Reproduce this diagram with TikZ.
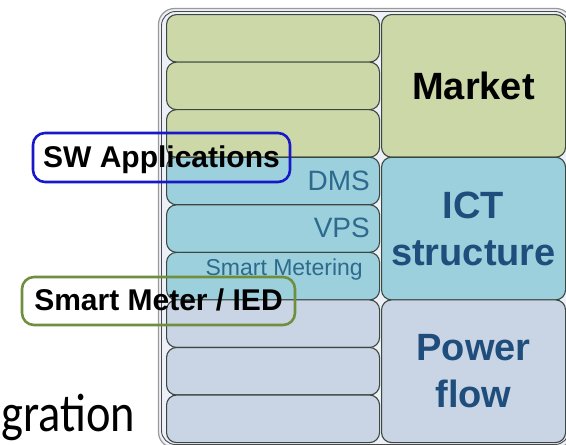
\documentclass[tikz,border=0pt]{standalone}
\usepackage{fontspec}
\setmainfont{Liberation Sans}
\newfontfamily\calib{Carlito}
\definecolor{cgreen}{HTML}{CCD8A8}
\definecolor{ccyan}{HTML}{9BD0DC}
\definecolor{cgray}{HTML}{C9D4E4}
\definecolor{cellline}{HTML}{3B4740}
\definecolor{framegray}{HTML}{9A9A9A}
\definecolor{framedark}{HTML}{4A4A4A}
\definecolor{framefill}{HTML}{EEF0F8}
\definecolor{swblue}{HTML}{1818C8}
\definecolor{smgreen}{HTML}{6F8F3F}
\definecolor{bigblue}{HTML}{1F4E7C}
\definecolor{smallblue}{HTML}{2E6A8E}
\begin{document}
\begin{tikzpicture}[x=1pt,y=-1pt,
 cell/.style={draw=cellline, line width=1.1pt, rounded corners=10pt, inner sep=0pt, anchor=north west},
 lcell/.style={cell, minimum width=213pt, minimum height=47.55pt},
 rcell/.style={cell, minimum width=184pt, minimum height=142.67pt, font=\bfseries\fontsize{38}{47}\selectfont, align=center},
 smalltxt/.style={anchor=base east, inner sep=0pt, text=smallblue, font=\fontsize{28}{30}\selectfont},
 callout/.style={rounded corners=12pt, line width=2.6pt, inner sep=0pt, font=\bfseries\fontsize{30}{32}\selectfont, text height=19pt, text depth=0pt}
]
\useasboundingbox (0,0) rectangle (566,445);
% frame
\draw[framegray, line width=1.2pt, fill=framefill, rounded corners=16pt] (158.5,8.5) rectangle (572,448);
\draw[framedark, line width=0.9pt, rounded corners=14pt] (161.5,11.5) rectangle (569,444.5);
% left cells
\foreach \i/\c in {1/cgreen,2/cgreen,3/cgreen,4/ccyan,5/ccyan,6/ccyan,7/cgray,8/cgray,9/cgray}
  \node[lcell, fill=\c] (l\i) at (166,{14+(\i-1)*47.56}) {};
% right cells
\node[rcell, fill=cgreen, text=black] (market) at (381,14) {Market};
\node[rcell, fill=ccyan, text=bigblue] (ict) at (381,156.67) {ICT\\structure};
\node[rcell, fill=cgray, text=bigblue] (power) at (381,299.33) {Power\\flow};
% cell labels
\node[smalltxt] (dms) at (370,190) {DMS};
\node[smalltxt] (vps) at (370,237) {VPS};
\node[smalltxt, font=\fontsize{23}{25}\selectfont] (smt) at (363,275) {Smart Metering};
% callouts
\node[callout, draw=swblue, minimum width=257pt, minimum height=49pt] (sw) at (161.5,157.5) {SW Applications};
\node[callout, draw=smgreen, minimum width=273pt, minimum height=48pt] (sm) at (158.5,301) {Smart Meter / IED};
% partial title
\node[anchor=base west, inner sep=0pt, font=\calib\fontsize{54}{60}\selectfont] (integ) at (1,431) {\scalebox{0.86}[1]{gration}};
\end{tikzpicture}
\end{document}
